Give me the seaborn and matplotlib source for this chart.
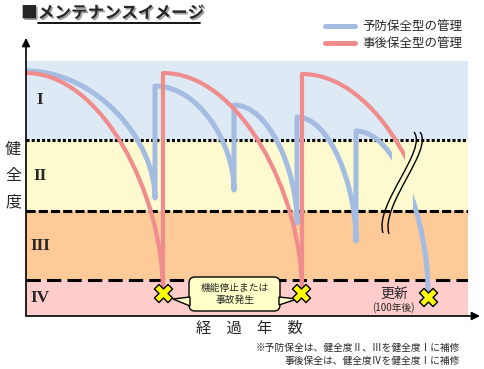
import matplotlib.pyplot as plt
import matplotlib.patheffects as pe
from matplotlib.lines import Line2D
from matplotlib.patches import PathPatch, FancyBboxPatch, Polygon, Rectangle
from matplotlib.path import Path
import seaborn as sns

sns.set_style("white")
plt.rcParams['font.family'] = ['Noto Sans CJK JP', 'DejaVu Sans']

# Health level bands (bottom to top): IV, III, II, I
band_edges = [0, 36, 105, 176, 255]
band_labels = ["IV", "III", "II", "I"]
band_colors = ["#ffcccc", "#fdca98", "#fefad0", "#dde9f5"]

# Preventive maintenance (予防保全型): start and end of each deterioration curve
prev_x0 = [0, 129, 208, 271, 330]
prev_y0 = [245, 230, 211, 199, 185]
prev_x1 = [129, 208, 271, 330, 402]
prev_y1 = [118, 126, 93, 75, 24]

# Corrective maintenance (事後保全型)
corr_x0 = [0, 137, 276]
corr_y0 = [243, 243, 242]
corr_x1 = [137, 276, 414]
corr_y1 = [24, 24, 24]

# Failure / renewal points
fail_x = [137, 275, 402]
fail_y = [23, 23, 19]

# Wavy "time skip" marks
wave1_x = [388, 402, 348, 357]
wave1_y = [184, 166, 111, 83]
wave2_x = [394, 408, 354, 363]
wave2_y = [184, 166, 111, 82]

blue = "#a4bce2"
red = "#f08c8c"


def decay_path(x0, y0, x1, y1, a=0.55, b=0.45):
    verts, codes = [], []
    for i in range(len(x0)):
        verts.append((x0[i], y0[i]))
        codes.append(Path.MOVETO if i == 0 else Path.LINETO)
        verts += [(x0[i] + a * (x1[i] - x0[i]), y0[i]),
                  (x1[i], y1[i] + b * (y0[i] - y1[i])),
                  (x1[i], y1[i])]
        codes += [Path.CURVE4] * 3
    return Path(verts, codes)


def draw_path(ax, path, color, lw, visible, z):
    for xmin, xmax in visible:
        patch = PathPatch(path, fill=False, edgecolor=color, lw=lw,
                          joinstyle='round', capstyle='butt', zorder=z)
        ax.add_patch(patch)
        patch.set_clip_path(Rectangle((xmin, -50), xmax - xmin, 400,
                                      transform=ax.transData))


fig = plt.figure(figsize=(4.84, 3.69), dpi=100)
ax = fig.add_axes([26 / 484, 53 / 369, 442 / 484, 255 / 369])
ax.set_xlim(0, 442)
ax.set_ylim(0, 255)
ax.axis('off')

# bands
for i in range(4):
    ax.axhspan(band_edges[i], band_edges[i + 1], color=band_colors[i], lw=0, zorder=0)
    ax.text(14, (band_edges[i] + band_edges[i + 1]) / 2, band_labels[i],
            family='Liberation Serif', fontweight='bold', fontsize=12.5,
            ha='center', va='center', zorder=1)

ax.axhline(band_edges[3], color='black', lw=2.2, ls=(0, (1, 0.7)), zorder=1)
ax.axhline(band_edges[2], color='black', lw=2.2, ls=(0, (3, 1)), zorder=1)
ax.axhline(band_edges[1], color='black', lw=2.2, ls=(0, (4.7, 2)), zorder=1)

# curves
draw_path(ax, decay_path(prev_x0, prev_y0, prev_x1, prev_y1), blue, 3.6,
          [(-10, 366), (387, 460)], 2)
draw_path(ax, decay_path(corr_x0, corr_y0, corr_x1, corr_y1), red, 3.0,
          [(-10, 379)], 3)

# time-skip wave marks
for wx, wy in [(wave1_x, wave1_y), (wave2_x, wave2_y)]:
    wp = Path(list(zip(wx, wy)), [Path.MOVETO] + [Path.CURVE4] * 3)
    ax.add_patch(PathPatch(wp, fill=False, edgecolor='black', lw=1.0, zorder=4))

# callout
box = FancyBboxPatch((163, 5), 91, 34, boxstyle="round,pad=0,rounding_size=6",
                     fc="#ffffc8", ec="black", lw=1, zorder=5)
ax.add_patch(box)
ax.add_patch(Polygon([(164, 19), (147, 17), (164, 10)], closed=True,
                     fc="#ffffc8", ec="black", lw=1, zorder=5.5))
ax.add_patch(Polygon([(253, 19), (271, 17), (253, 11)], closed=True,
                     fc="#ffffc8", ec="black", lw=1, zorder=5.5))
ax.text(208.5, 22, "機能停止または\n事故発生", ha='center', va='center',
        fontsize=7, linespacing=1.3, zorder=6)

# failure markers
sns.scatterplot(x=fail_x, y=fail_y, marker="X", s=170, color="#ffff00",
                edgecolor="black", linewidth=1.0, zorder=7, ax=ax, legend=False)

ax.text(368, 22, "更新", ha='center', va='center', fontsize=10, zorder=6)
ax.text(367, 8, "(100年後)", ha='center', va='center', fontsize=7, zorder=6)

# axis arrows
arrow = dict(arrowstyle="-|>", color='black', lw=1.2, mutation_scale=12,
             shrinkA=0, shrinkB=0)
ax.annotate("", xy=(0, 278), xytext=(0, 0), arrowprops=arrow, annotation_clip=False)
ax.annotate("", xy=(454, 0), xytext=(0, 0), arrowprops=arrow, annotation_clip=False)

# labels
fig.text(13 / 484, 1 - 176 / 369, "健\n全\n度", fontsize=11.5, ha='center',
         va='center', linespacing=1.7)
fig.text(249 / 484, 1 - 328 / 369, "経　過　年　数", fontsize=11, ha='center', va='center')

title = fig.text(21 / 484, 1 - 13 / 369, "■メンテナンスイメージ", fontsize=12,
                 fontweight='bold', ha='left', va='center')
title.set_path_effects([pe.withSimplePatchShadow(offset=(1.2, -1.2),
                                                  shadow_rgbFace='#888888', alpha=0.8)])
fig.add_artist(Line2D([38 / 484, 200 / 484], [1 - 23 / 369] * 2, color='black', lw=1.3))

handles = [Line2D([], [], color=blue, lw=3.6), Line2D([], [], color=red, lw=3.6)]
fig.legend(handles, ["予防保全型の管理", "事後保全型の管理"], loc='upper right',
           bbox_to_anchor=(462 / 484, 1 - 20 / 369), frameon=False, fontsize=9,
           handlelength=2.4, handletextpad=0.6, labelspacing=0.35,
           borderpad=0, borderaxespad=0)

fig.text(460 / 484, 1 - 348 / 369, "※予防保全は、健全度Ⅱ、Ⅲを健全度Ⅰに補修",
         fontsize=7, ha='right', va='center')
fig.text(460 / 484, 1 - 361 / 369, "事後保全は、健全度Ⅳを健全度Ⅰに補修",
         fontsize=7, ha='right', va='center')

fig.savefig("out.png", dpi=100)
